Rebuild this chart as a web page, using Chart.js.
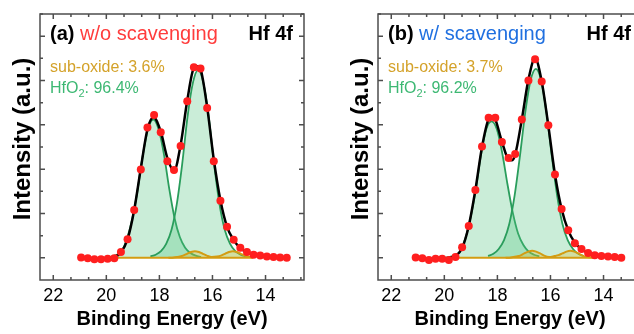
<!DOCTYPE html>
<html>
<head>
<meta charset="utf-8">
<script src="https://cdn.jsdelivr.net/npm/chart.js@4.4.1/dist/chart.umd.min.js"></script>
<style>
    html, body { margin: 0; padding: 0; background: #fff; overflow: hidden; }
    #wrap { position: relative; width: 634px; height: 334px; overflow: hidden; }
    canvas { position: absolute; top: 0; }
    #chart-a { left: 0; }
    #chart-b { left: 338px; }
</style>
</head>
<body>
<div id="wrap">
    <canvas id="chart-a" width="338" height="334"></canvas>
    <canvas id="chart-b" width="338" height="334"></canvas>
</div>
<script>
// -------------------------------------------- data, panel (a) w/o scavenging
const aDataX = [20.95, 20.70, 20.45, 20.20, 19.95, 19.70, 19.45, 19.20, 18.95, 18.70, 18.45, 18.20, 17.95, 17.70, 17.45, 17.20,
    16.95, 16.70, 16.45, 16.20, 15.95, 15.70, 15.45, 15.20, 14.95, 14.70, 14.45, 14.20, 13.95, 13.70, 13.45, 13.20];
const aDataY = [0.01, -0.01, -0.03, -0.03, -0.02, -0.01, 0.13, 0.42, 1.08, 1.99, 2.94, 3.22, 2.83, 2.18, 1.98, 2.52,
    3.53, 4.30, 4.27, 3.38, 2.18, 1.29, 0.70, 0.41, 0.23, 0.13, 0.07, 0.05, 0.03, 0.02, 0.01, 0.00];

const aFitX = [19.80, 19.70, 19.45, 19.20, 18.95, 18.70, 18.45, 18.22, 17.95, 17.70, 17.45, 17.20, 16.95, 16.70, 16.55, 16.45,
    16.20, 15.95, 15.70, 15.45, 15.20, 14.95, 14.70, 14.45, 14.20, 13.95, 13.70, 13.45, 13.20];
const aFitY = [0.00, 0.02, 0.12, 0.42, 1.08, 2.02, 2.90, 3.17, 2.85, 2.25, 1.96, 2.55, 3.55, 4.28, 4.32, 4.26,
    3.40, 2.22, 1.30, 0.70, 0.40, 0.22, 0.12, 0.07, 0.04, 0.03, 0.02, 0.01, 0.00];

const aPeak1X = [20.03, 19.83, 19.63, 19.43, 19.23, 19.03, 18.83, 18.63, 18.43, 18.23, 18.03, 17.83, 17.63, 17.43, 17.23, 17.03, 16.83, 16.63, 16.43];
const aPeak1Y = [0.00, 0.02, 0.06, 0.14, 0.42, 0.86, 1.50, 2.30, 2.90, 3.12, 2.90, 2.34, 1.56, 0.90, 0.47, 0.23, 0.11, 0.05, 0.02];

const aPeak2X = [18.34, 18.14, 17.94, 17.74, 17.54, 17.34, 17.14, 16.94, 16.74, 16.54, 16.34, 16.14, 15.94, 15.74, 15.54, 15.34, 15.14, 14.94, 14.74];
const aPeak2Y = [0.03, 0.07, 0.15, 0.32, 0.64, 1.23, 2.12, 3.18, 3.94, 4.24, 3.94, 3.18, 2.12, 1.23, 0.64, 0.32, 0.15, 0.07, 0.03];

const aSubX = [17.66, 17.46, 17.26, 17.11, 16.96, 16.81, 16.66, 16.51, 16.36, 16.21, 16.03, 15.83, 15.68, 15.53, 15.38, 15.23, 15.08, 14.93, 14.78, 14.63, 14.48];
const aSubY = [0.00, 0.01, 0.025, 0.05, 0.09, 0.13, 0.15, 0.13, 0.09, 0.05, 0.02, 0.03, 0.05, 0.09, 0.13, 0.15, 0.13, 0.09, 0.05, 0.025, 0.01];

const aBaseX = [19.66, 14.48];

// -------------------------------------------- data, panel (b) w/ scavenging
const bDataX = [21.08, 20.83, 20.58, 20.33, 20.08, 19.83, 19.58, 19.33, 19.08, 18.83, 18.58, 18.33, 18.08, 17.83, 17.58, 17.33,
    17.08, 16.83, 16.58, 16.33, 16.08, 15.83, 15.58, 15.33, 15.08, 14.83, 14.58, 14.33, 14.08, 13.83, 13.58, 13.33];
const bDataY = [0.01, -0.01, -0.05, -0.02, -0.02, -0.05, 0.02, 0.24, 0.72, 1.53, 2.51, 3.16, 3.16, 2.61, 2.25, 2.34,
    3.12, 4.00, 4.48, 3.98, 2.99, 1.88, 1.10, 0.62, 0.33, 0.20, 0.11, 0.06, 0.04, 0.03, 0.02, 0.00];

const bFitX = [19.85, 19.58, 19.33, 19.08, 18.83, 18.58, 18.33, 18.21, 18.08, 17.83, 17.58, 17.46, 17.33, 17.08, 16.83, 16.58,
    16.33, 16.08, 15.83, 15.58, 15.33, 15.08, 14.83, 14.58, 14.33, 14.08, 13.83, 13.58, 13.33];
const bFitY = [0.00, 0.04, 0.22, 0.72, 1.53, 2.50, 3.13, 3.18, 3.12, 2.62, 2.22, 2.20, 2.33, 3.12, 4.02, 4.50,
    3.98, 2.98, 1.88, 1.10, 0.62, 0.34, 0.20, 0.11, 0.06, 0.04, 0.03, 0.02, 0.00];

const bPeak1X = [20.02, 19.82, 19.62, 19.42, 19.22, 19.02, 18.82, 18.62, 18.42, 18.22, 18.02, 17.82, 17.62, 17.42, 17.22, 17.02, 16.82, 16.62, 16.42];
const bPeak1Y = [0.00, 0.02, 0.05, 0.14, 0.42, 0.88, 1.52, 2.32, 2.90, 3.08, 2.90, 2.37, 1.66, 1.02, 0.55, 0.29, 0.14, 0.07, 0.03];

const bPeak2X = [18.35, 18.15, 17.95, 17.75, 17.55, 17.35, 17.15, 16.95, 16.75, 16.55, 16.35, 16.15, 15.95, 15.75, 15.55, 15.35, 15.15, 14.95, 14.75];
const bPeak2Y = [0.04, 0.09, 0.20, 0.40, 0.77, 1.41, 2.30, 3.28, 4.00, 4.26, 4.00, 3.28, 2.30, 1.41, 0.77, 0.40, 0.20, 0.09, 0.04];

const bSubX = [17.69, 17.49, 17.29, 17.14, 16.99, 16.84, 16.69, 16.54, 16.39, 16.24, 16.05, 15.85, 15.70, 15.55, 15.40, 15.25, 15.10, 14.95, 14.80, 14.60, 14.40];
const bSubY = [0.00, 0.01, 0.03, 0.05, 0.10, 0.14, 0.16, 0.14, 0.10, 0.05, 0.02, 0.04, 0.06, 0.10, 0.14, 0.16, 0.14, 0.10, 0.05, 0.02, 0.01];

const bBaseX = [19.59, 14.40];

// -------------------------------------------- axes
const xMajor = [22, 20, 18, 16, 14];
const yMajor = [0, 1, 2, 3, 4, 5];

const FONT = "'Liberation Sans', Arial, sans-serif";

function pts(xs, ys) {
    return xs.map((x, i) => ({x: x, y: ys[i]}));
}

// frame, inward ticks, titles and the labels inside the box
const framePlugin = {
    id: 'frame',
    afterDraw(chart, args, o) {
        const {ctx, chartArea: a, scales: {x, y}} = chart;
        ctx.save();
        ctx.strokeStyle = '#4d4d4d';
        ctx.lineWidth = 1.5;
        ctx.beginPath();
        xMajor.forEach(v => {
            for (let k = 0; k < 3; k++) {
                const t = v - k * 2 / 3;
                if (t < x.min || t > x.max) continue;
                const px = x.getPixelForValue(t);
                const len = k === 0 ? 5 : 3;
                ctx.moveTo(px, a.bottom); ctx.lineTo(px, a.bottom - len);
                ctx.moveTo(px, a.top); ctx.lineTo(px, a.top + len);
            }
        });
        yMajor.forEach(v => {
            for (let k = 0; k < 2; k++) {
                const t = v + k * 0.5;
                if (t < y.min || t > y.max) continue;
                const py = y.getPixelForValue(t);
                const len = k === 0 ? 5 : 3;
                ctx.moveTo(a.left, py); ctx.lineTo(a.left + len, py);
                ctx.moveTo(a.right, py); ctx.lineTo(a.right - len, py);
            }
        });
        ctx.stroke();
        ctx.strokeRect(a.left, a.top, a.right - a.left, a.bottom - a.top);

        // y title
        ctx.save();
        ctx.translate(30, 139);
        ctx.rotate(-Math.PI / 2);
        ctx.fillStyle = '#000';
        ctx.font = "bold 24px " + FONT;
        ctx.textAlign = 'center';
        ctx.textBaseline = 'alphabetic';
        ctx.fillText('Intensity (a.u.)', 0, 0);
        ctx.restore();

        // labels
        const lx = a.left + 10;
        ctx.textBaseline = 'alphabetic';
        ctx.textAlign = 'left';
        ctx.font = "bold 20px " + FONT;
        ctx.fillStyle = '#000';
        ctx.fillText(o.tag, lx, 40);
        let w = ctx.measureText(o.tag + ' ').width;
        ctx.font = "20px " + FONT;
        ctx.fillStyle = o.condColor;
        ctx.fillText(o.cond, lx + w, 40);

        ctx.font = "bold 20px " + FONT;
        ctx.fillStyle = '#000';
        ctx.textAlign = 'right';
        ctx.fillText('Hf 4f', a.right - 11, 40);

        ctx.textAlign = 'left';
        ctx.font = "16px " + FONT;
        ctx.fillStyle = '#d4a22a';
        ctx.fillText(o.sub, lx, 72);

        ctx.fillStyle = '#3db873';
        ctx.fillText('HfO', lx, 93);
        w = ctx.measureText('HfO').width;
        ctx.font = "11px " + FONT;
        ctx.fillText('2', lx + w, 97);
        const w2 = ctx.measureText('2').width;
        ctx.font = "16px " + FONT;
        ctx.fillText(': ' + o.hfo, lx + w + w2, 93);
        ctx.restore();
    }
};

function makePanel(id, d) {
    const green = '#2a9d5c';
    const gold = '#d39c12';
    return new Chart(document.getElementById(id).getContext('2d'), {
        type: 'scatter',
        data: {
            datasets: [
                {data: pts(d.p1x, d.p1y), showLine: true, borderColor: green, borderWidth: 1.8, pointRadius: 0,
                    fill: 'origin', backgroundColor: 'rgba(80,195,125,0.3)', cubicInterpolationMode: 'monotone', order: 6},
                {data: pts(d.p2x, d.p2y), showLine: true, borderColor: green, borderWidth: 1.8, pointRadius: 0,
                    fill: 'origin', backgroundColor: 'rgba(80,195,125,0.3)', cubicInterpolationMode: 'monotone', order: 5},
                {data: pts(d.sx, d.sy), showLine: true, borderColor: gold, borderWidth: 2, pointRadius: 0,
                    fill: 'origin', backgroundColor: 'rgba(225,185,40,0.3)', cubicInterpolationMode: 'monotone', order: 4},
                {data: pts(d.bx, [0, 0]), showLine: true, borderColor: gold, borderWidth: 2, pointRadius: 0, order: 3},
                {data: pts(d.fx, d.fy), showLine: true, borderColor: '#000', borderWidth: 2.5, pointRadius: 0,
                    cubicInterpolationMode: 'monotone', order: 2},
                {data: pts(d.dx, d.dy), showLine: false, pointRadius: 4, pointBackgroundColor: '#ff1f1f',
                    pointBorderWidth: 0, order: 1}
            ]
        },
        options: {
            responsive: false,
            animation: false,
            events: [],
            layout: {padding: {top: 14, right: 34, left: 0, bottom: 0}},
            plugins: {
                legend: {display: false},
                tooltip: {enabled: false},
                frame: d.labels
            },
            scales: {
                x: {
                    type: 'linear',
                    reverse: true,
                    min: 12.55,
                    max: 22.5,
                    afterBuildTicks: (s) => { s.ticks = xMajor.map(v => ({value: v})); },
                    afterFit: (s) => { s.height = 54; },
                    grid: {display: false, drawTicks: false},
                    border: {display: false},
                    ticks: {color: '#000', padding: 5, font: {family: FONT, size: 18}},
                    title: {display: true, text: 'Binding Energy (eV)', color: '#000', padding: {top: 0, bottom: 3},
                        font: {family: FONT, size: 20, weight: 'bold'}}
                },
                y: {
                    min: -0.5,
                    max: 5.5,
                    afterFit: (s) => { s.width = 40; },
                    grid: {display: false, drawTicks: false},
                    border: {display: false},
                    ticks: {display: false}
                }
            }
        },
        plugins: [framePlugin]
    });
}

// -------------------------------------------- panel (a)
makePanel('chart-a', {
    dx: aDataX, dy: aDataY, fx: aFitX, fy: aFitY,
    p1x: aPeak1X, p1y: aPeak1Y, p2x: aPeak2X, p2y: aPeak2Y,
    sx: aSubX, sy: aSubY, bx: aBaseX,
    labels: {tag: '(a)', cond: 'w/o scavenging', condColor: '#ff3c3c', sub: 'sub-oxide: 3.6%', hfo: '96.4%'}
});

// -------------------------------------------- panel (b)
makePanel('chart-b', {
    dx: bDataX, dy: bDataY, fx: bFitX, fy: bFitY,
    p1x: bPeak1X, p1y: bPeak1Y, p2x: bPeak2X, p2y: bPeak2Y,
    sx: bSubX, sy: bSubY, bx: bBaseX,
    labels: {tag: '(b)', cond: 'w/ scavenging', condColor: '#2070e0', sub: 'sub-oxide: 3.7%', hfo: '96.2%'}
});
</script>
</body>
</html>
